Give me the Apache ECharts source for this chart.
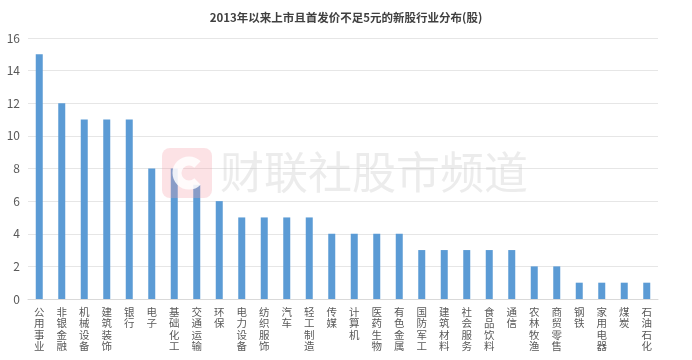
<!DOCTYPE html>
<html><head><meta charset="utf-8">
<script src="https://cdn.jsdelivr.net/npm/echarts@6/dist/echarts.min.js"></script>
<style>html,body{margin:0;padding:0;background:#fff}#c{width:692px;height:360px}</style>
</head><body><div id="c"></div>
<script>
const titleText = '2013年以来上市且首发价不足5元的新股行业分布(股)';
const categories = ['公用事业','非银金融','机械设备','建筑装饰','银行','电子','基础化工','交通运输','环保','电力设备','纺织服饰','汽车','轻工制造','传媒','计算机','医药生物','有色金属','国防军工','建筑材料','社会服务','食品饮料','通信','农林牧渔','商贸零售','钢铁','家用电器','煤炭','石油石化'];
const values = [15,12,11,11,11,8,8,7,6,5,5,5,5,4,4,4,4,3,3,3,3,3,2,2,1,1,1,1];
const yTicks = {min:0, max:16, interval:2};
const watermark = '财联社股市频道';

const chart = echarts.init(document.getElementById('c'), null, {renderer:'canvas'});
const font = '"Noto Sans CJK SC", "Microsoft YaHei", sans-serif';
chart.setOption({
  animation:false,
  textStyle:{fontFamily:font},
  title:{text:titleText,left:'center',top:7,textStyle:{fontSize:11.5,fontWeight:'bold',color:'#404040',fontFamily:font}},
  grid:{left:28,right:34,top:38,bottom:61,containLabel:false},
  xAxis:{type:'category',data:categories,
    axisLine:{lineStyle:{color:'#d9d9d9'}},axisTick:{show:false},
    axisLabel:{interval:0,margin:7,fontSize:10.5,lineHeight:11.5,color:'#595959',
      formatter:v=>v.split('').join('\n')}},
  yAxis:{type:'value',min:yTicks.min,max:yTicks.max,interval:yTicks.interval,
    axisLine:{show:false},axisTick:{show:false},
    axisLabel:{fontSize:12,color:'#595959',margin:8,fontFamily:font},
    splitLine:{lineStyle:{color:'#e6e6e6'}}},
  series:[{type:'bar',data:values,barWidth:7,itemStyle:{color:'#5B9BD5'}}],
  graphic:[
    {type:'rect',z:100,shape:{x:162,y:148,width:50,height:50,r:8},style:{fill:'rgba(245,160,170,0.3)'}},
    {type:'arc',z:101,shape:{cx:189,cy:173,r:12,startAngle:Math.PI*0.25,endAngle:Math.PI*1.75,clockwise:true},style:{stroke:'rgba(255,255,255,0.85)',lineWidth:9,fill:null}},
    {type:'text',z:100,left:220,top:150,style:{text:watermark,fontSize:44,fill:'rgba(195,195,195,0.32)',fontFamily:font}}
  ]
});
</script></body></html>
